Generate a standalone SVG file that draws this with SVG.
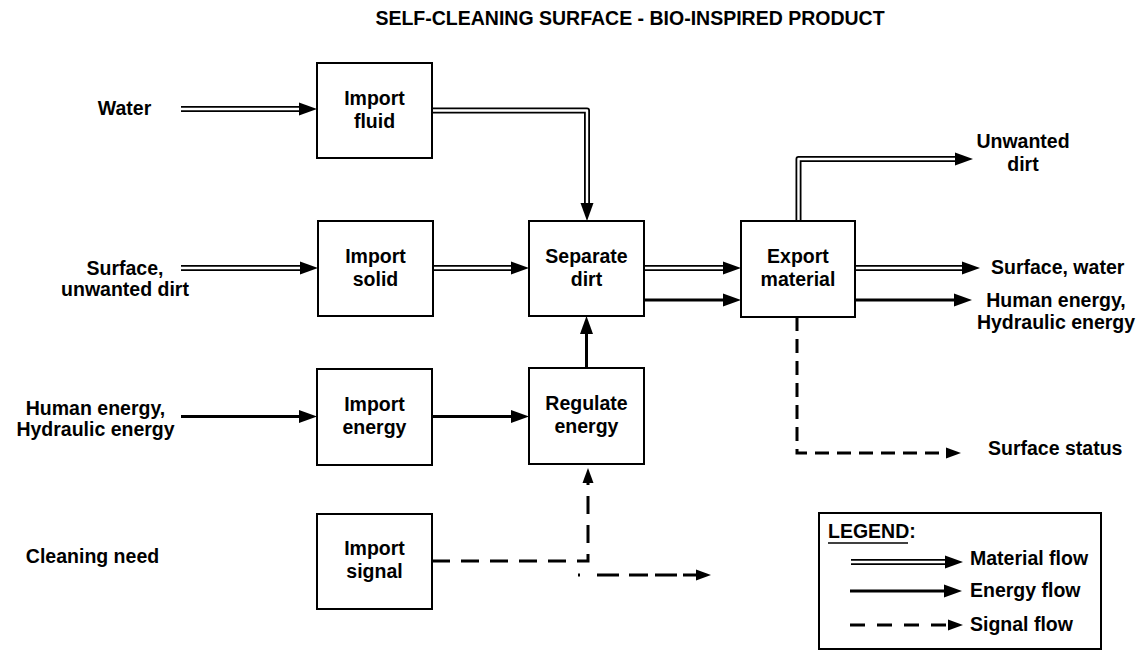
<svg xmlns="http://www.w3.org/2000/svg" width="1143" height="651" viewBox="0 0 1143 651">
  <style>
    text { font-family: "Liberation Sans", Arial, Helvetica, sans-serif; font-weight: bold; font-size: 19.5px; fill: #000; }
    .c { text-anchor: middle; }
    .box { fill: #fff; stroke: #000; stroke-width: 2; }
    .mat-out { fill: none; stroke: #000; stroke-width: 6; stroke-linejoin: round; }
    .mat-in { fill: none; stroke: #fff; stroke-width: 2.4; stroke-linejoin: round; }
    .energy { fill: none; stroke: #000; stroke-width: 3; }
    .signal { fill: none; stroke: #000; stroke-width: 3; }
  </style>
  <defs>
    <marker id="arrow" markerUnits="userSpaceOnUse" markerWidth="18" markerHeight="14" refX="0" refY="6.5" orient="auto" overflow="visible">
      <path d="M0,0 L18,6.5 L0,13 Z" fill="#000"/>
    </marker>
    <marker id="arrow-sig" markerUnits="userSpaceOnUse" markerWidth="15" markerHeight="12" refX="0" refY="5.5" orient="auto" overflow="visible">
      <path d="M0,0 L15,5.5 L0,11 Z" fill="#000"/>
    </marker>
  </defs>

  <rect width="1143" height="651" fill="#fff"/>

  <text class="c" x="630" y="25">SELF-CLEANING SURFACE - BIO-INSPIRED PRODUCT</text>

  <!-- external inputs and outputs -->
  <g id="labels">
    <text class="c" x="124.5" y="115">Water</text>
    <text class="c" x="125" y="275">Surface,</text>
    <text class="c" x="125" y="296">unwanted dirt</text>
    <text class="c" x="95.5" y="415">Human energy,</text>
    <text class="c" x="95.5" y="436">Hydraulic energy</text>
    <text class="c" x="92.5" y="563">Cleaning need</text>
    <text class="c" x="1023" y="148">Unwanted</text>
    <text class="c" x="1023" y="171">dirt</text>
    <text x="991" y="274">Surface, water</text>
    <text class="c" x="1056" y="307">Human energy,</text>
    <text class="c" x="1056" y="329">Hydraulic energy</text>
    <text x="988" y="455">Surface status</text>
  </g>

  <!-- connectors -->
  <g id="connectors">
    <!-- material flows: black outer stroke with white core -->
    <g id="material">
      <path class="mat-out" d="M181,109 H299" marker-end="url(#arrow)"/>
      <path class="mat-in" d="M181,109 H299"/>
      <path class="mat-out" d="M432,110.5 H587 V203" marker-end="url(#arrow)"/>
      <path class="mat-in" d="M432,110.5 H587 V203"/>
      <path class="mat-out" d="M181,268 H300" marker-end="url(#arrow)"/>
      <path class="mat-in" d="M181,268 H300"/>
      <path class="mat-out" d="M433,268 H511" marker-end="url(#arrow)"/>
      <path class="mat-in" d="M433,268 H511"/>
      <path class="mat-out" d="M644,268 H723" marker-end="url(#arrow)"/>
      <path class="mat-in" d="M644,268 H723"/>
      <path class="mat-out" d="M855,268 H962" marker-end="url(#arrow)"/>
      <path class="mat-in" d="M855,268 H962"/>
      <path class="mat-out" d="M798.5,221 V159 H955" marker-end="url(#arrow)"/>
      <path class="mat-in" d="M798.5,221 V159 H955"/>
    </g>
    <!-- energy flows -->
    <g id="energy">
      <path class="energy" d="M181,416.5 H299" marker-end="url(#arrow)"/>
      <path class="energy" d="M432,416.5 H511" marker-end="url(#arrow)"/>
      <path class="energy" d="M586.5,368 V334" marker-end="url(#arrow)"/>
      <path class="energy" d="M644,300 H723" marker-end="url(#arrow)"/>
      <path class="energy" d="M855,300 H954" marker-end="url(#arrow)"/>
    </g>
    <!-- signal flows -->
    <g id="signal">
      <path class="signal" d="M432,561 H588 V483" stroke-dasharray="18 11" marker-end="url(#arrow-sig)"/>
      <path class="signal" d="M578,575 H696" stroke-dasharray="2 17 22 10 19 7 22 6 13 0" marker-end="url(#arrow-sig)"/>
      <path class="signal" d="M797,317 V453 H946" stroke-dasharray="14 8" marker-end="url(#arrow-sig)"/>
    </g>
  </g>

  <!-- function blocks -->
  <g id="import-fluid">
    <rect class="box" x="317" y="63" width="115" height="95"/>
    <text class="c" x="374.5" y="104.5">Import</text>
    <text class="c" x="374.5" y="127.5">fluid</text>
  </g>
  <g id="import-solid">
    <rect class="box" x="318" y="221" width="115" height="95"/>
    <text class="c" x="375.5" y="262.5">Import</text>
    <text class="c" x="375.5" y="285.5">solid</text>
  </g>
  <g id="separate-dirt">
    <rect class="box" x="529" y="221" width="115" height="95"/>
    <text class="c" x="586.5" y="262.5">Separate</text>
    <text class="c" x="586.5" y="285.5">dirt</text>
  </g>
  <g id="import-energy">
    <rect class="box" x="317" y="369" width="115" height="96"/>
    <text class="c" x="374.5" y="411">Import</text>
    <text class="c" x="374.5" y="434">energy</text>
  </g>
  <g id="regulate-energy">
    <rect class="box" x="529" y="368" width="115" height="96"/>
    <text class="c" x="586.5" y="410">Regulate</text>
    <text class="c" x="586.5" y="433">energy</text>
  </g>
  <g id="import-signal">
    <rect class="box" x="317" y="514" width="115" height="95"/>
    <text class="c" x="374.5" y="555">Import</text>
    <text class="c" x="374.5" y="578">signal</text>
  </g>
  <g id="export-material">
    <rect class="box" x="741" y="221" width="114" height="96"/>
    <text class="c" x="798" y="263">Export</text>
    <text class="c" x="798" y="286">material</text>
  </g>

  <!-- legend -->
  <g id="legend">
    <rect class="box" x="819" y="513" width="282" height="136"/>
    <text x="828" y="538">LEGEND:</text>
    <line x1="828" y1="543" x2="908" y2="543" stroke="#000" stroke-width="1.5"/>
    <path class="mat-out" d="M851,562 H945" marker-end="url(#arrow)"/>
    <path class="mat-in" d="M851,562 H945"/>
    <text x="970" y="565">Material flow</text>
    <path class="energy" d="M850,591 H944" marker-end="url(#arrow)"/>
    <text x="970" y="597">Energy flow</text>
    <path class="signal" d="M850,625 H948" stroke-dasharray="15 12" marker-end="url(#arrow-sig)"/>
    <text x="970" y="631">Signal flow</text>
  </g>
</svg>
